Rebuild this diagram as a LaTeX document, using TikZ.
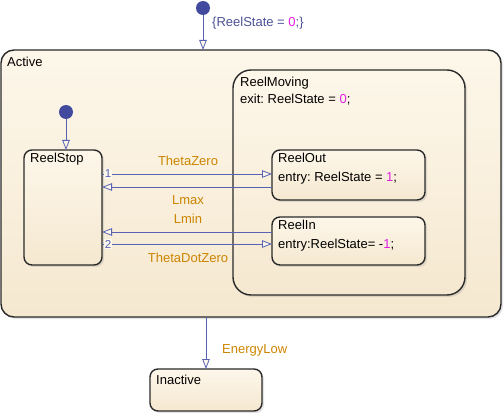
\documentclass[tikz,border=0pt]{standalone}
\usepackage{fontspec}
\setmainfont{Liberation Sans}
\frenchspacing
\usetikzlibrary{arrows.meta,shadows}
\definecolor{stfill}{HTML}{FDF7EA}
\definecolor{stfilltwo}{HTML}{F5E8D0}
\definecolor{stborder}{HTML}{2A2A2A}
\definecolor{trans}{HTML}{5862B4}
\definecolor{lab}{HTML}{CC8500}
\definecolor{num}{HTML}{E020E0}
\definecolor{dotc}{HTML}{414A9C}
\definecolor{acttext}{HTML}{4B5296}
\tikzset{
  state/.style={draw=stborder, line width=1.4pt, rounded corners=#1, top color=stfill, bottom color=stfilltwo,
    anchor=north west, inner sep=0pt, outer sep=0pt,
    drop shadow={opacity=0.22, shadow xshift=2pt, shadow yshift=-2pt}},
  stext/.style={anchor=base west, inner sep=0pt, font=\fontsize{13}{15}\selectfont\frenchspacing, text=black},
  tr/.style={draw=trans, line width=0.8pt, -{Triangle[open, length=10pt, width=7.5pt, fill=stfill]}},
  tlab/.style={anchor=base, inner sep=0pt, font=\fontsize{13}{15}\selectfont, text=lab},
  numlab/.style={inner sep=1pt, fill=stfill, font=\fontsize{11.5}{13}\selectfont, text=trans},
  idot/.style={circle, fill=dotc, inner sep=0pt, minimum size=#1},
}
\begin{document}
\begin{tikzpicture}[x=1pt, y=-1pt]
\useasboundingbox (0,0) rectangle (504,417);
% states
\node[state=13pt, minimum width=500pt, minimum height=267pt] (active) at (1,50) {};
\node[stext] (activet) at (7,67) {Active};
\node[state=18pt, minimum width=232pt, minimum height=225pt] (moving) at (233,70) {};
\node[stext] (movingt) at (240,87) {ReelMoving};
\node[stext] (movingx) at (240,104) {exit: ReelState = \textcolor{num}{0};};
\node[state=8pt, minimum width=78pt, minimum height=115pt] (stop) at (24,150) {};
\node[stext] (stopt) at (30,163) {ReelStop};
\node[state=8pt, minimum width=153pt, minimum height=50pt] (out) at (272,150) {};
\node[stext] (outt) at (278,163) {ReelOut};
\node[stext] (outx) at (278,182) {entry: ReelState = \textcolor{num}{1};};
\node[state=8pt, minimum width=153pt, minimum height=48pt] (in) at (272,217) {};
\node[stext] (int) at (278,230) {ReelIn};
\node[stext] (inx) at (278,248) {entry:ReelState= -\textcolor{num}{1};};
\node[state=8pt, minimum width=112pt, minimum height=42pt] (inactive) at (150,369) {};
\node[stext] (inactivet) at (156,384) {Inactive};
% default transitions
\node[idot=14pt] (d0) at (203,8) {};
\draw[tr] (d0) -- (d0 |- active.north);
\node[anchor=base west, inner sep=0pt, font=\fontsize{13}{15}\selectfont\frenchspacing, text=acttext] (d0lab) at (212,27) {\{ReelState = \textcolor{num}{0};\}};
\node[idot=14pt] (d1) at (66,112) {};
\draw[tr] (d1) -- (d1 |- stop.north);
% transitions
\draw[tr] ([yshift=-24pt]stop.north east) -- ([yshift=-24pt]out.north west);
\draw[tr] ([yshift=-37pt]out.north west) -- ([yshift=-37pt]stop.north east);
\draw[tr] ([yshift=-15pt]in.north west) -- ([yshift=-15pt]stop.north east |- in.north west);
\draw[tr] ([yshift=-27pt]stop.north east |- in.north west) -- ([yshift=-27pt]in.north west);
\node[numlab] (n1) at (108,174) {1};
\node[numlab] (n2) at (108,244) {2};
\node[tlab] (l1) at (188,166) {ThetaZero};
\node[tlab] (l2) at (188,205) {Lmax};
\node[tlab] (l3) at (188,224) {Lmin};
\node[tlab] (l4) at (188,262) {ThetaDotZero};
% exit
\draw[tr] (active.south -| inactive.north) -- (inactive.north);
\node[tlab, anchor=base west] (l5) at (222,353) {EnergyLow};
\end{tikzpicture}
\end{document}
